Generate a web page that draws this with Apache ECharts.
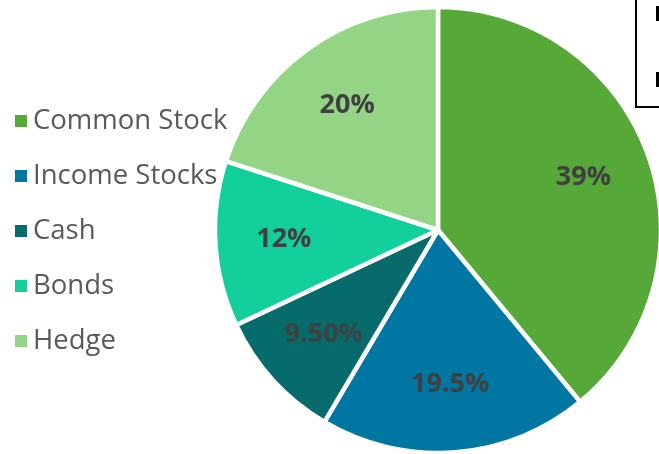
<!DOCTYPE html>
<html>
<head>
<meta charset="utf-8">
<script src="https://cdn.jsdelivr.net/npm/echarts@6/dist/echarts.min.js"></script>
<style>
  html, body { margin: 0; padding: 0; background: #fff; }
  #chart { width: 659px; height: 454px; }
</style>
</head>
<body>
<div id="chart"></div>
<script>
var categories = ['Common Stock', 'Income Stocks', 'Cash', 'Bonds', 'Hedge'];
var values = [39, 19.5, 9.5, 12, 20];
var labelTexts = ['39%', '19.5%', '9.50%', '12%', '20%'];
var colors = ['#56a838', '#0076a3', '#076a6b', '#12cf9b', '#94d585'];

var myChart = echarts.init(document.getElementById('chart'));

var pieData = categories.map(function (name, i) {
  return { name: name, value: values[i] };
});

option = {
  color: colors,
  animation: false,
  legend: {
    orient: 'vertical',
    left: 8,
    top: 101,
    icon: 'rect',
    itemWidth: 14,
    itemHeight: 14,
    itemGap: 25,
    selectedMode: false,
    textStyle: {
      fontFamily: 'Open Sans',
      fontSize: 27.5,
      color: '#595959',
      lineHeight: 30,
      padding: [0, 0, 0, 0]
    },
    data: categories
  },
  graphic: [
    { type: 'rect', shape: { x: 636, y: -5, width: 60, height: 112 },
      style: { fill: '#fff', stroke: '#000', lineWidth: 2 } },
    { type: 'rect', shape: { x: 656, y: 6, width: 8, height: 15 }, style: { fill: '#000' } },
    { type: 'rect', shape: { x: 656, y: 72, width: 8, height: 15 }, style: { fill: '#000' } }
  ],
  series: [
    {
      name: 'Allocation',
      type: 'pie',
      center: [438, 230],
      radius: [0, 223],
      startAngle: 90,
      clockwise: true,
      silent: true,
      itemStyle: { borderColor: '#fff', borderWidth: 4.5 },
      label: { show: false },
      labelLine: { show: false },
      data: pieData
    },
    {
      name: 'Labels',
      type: 'pie',
      center: [438, 230],
      radius: [80, 223],
      startAngle: 90,
      clockwise: true,
      silent: true,
      legendHoverLink: false,
      itemStyle: { color: 'rgba(0,0,0,0)', borderWidth: 0 },
      label: {
        show: true,
        position: 'inside',
        fontFamily: 'Open Sans',
        fontWeight: 'bold',
        fontSize: 27,
        color: '#404040',
        formatter: function (p) { return labelTexts[p.dataIndex]; }
      },
      labelLine: { show: false },
      data: pieData.map(function (d) { return { name: d.name + ' ', value: d.value }; })
    }
  ]
};
myChart.setOption(option);
</script>
</body>
</html>
